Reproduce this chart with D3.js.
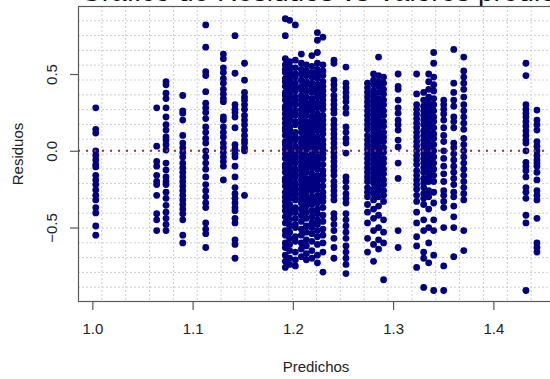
<!DOCTYPE html>
<html>
<head>
<meta charset="utf-8">
<script src="https://cdn.jsdelivr.net/npm/d3@7"></script>
<style>
  html, body { margin: 0; padding: 0; background: #fff; overflow: hidden; }
  svg { display: block; font-family: "Liberation Sans", Arial, sans-serif; }
</style>
</head>
<body>
<svg id="chart" width="550" height="379"></svg>
<script>
// Fitted values (one per distinct prediction level)
const predichos = [
  1.0034, 1.0642, 1.0735, 1.0902, 1.1131, 1.1307, 1.1423, 1.1518,
  1.1925, 1.1968, 1.2025, 1.2085, 1.2135, 1.2190, 1.2245, 1.2300,
  1.2410, 1.2530,
  1.2745, 1.2805, 1.2855, 1.2905, 1.3050,
  1.3235, 1.3305, 1.3355, 1.3405, 1.3505, 1.3605, 1.3705,
  1.4325, 1.4435
];

// Residuals observed at each prediction level
const residuos = [
  [0.28, 0.14, 0.115, 0.0, -0.03, -0.06, -0.09, -0.105, -0.16, -0.19, -0.22, -0.255, -0.29, -0.32, -0.37, -0.405, -0.49, -0.55],
  [0.28, 0.03, -0.07, -0.1, -0.16, -0.2, -0.22, -0.29, -0.41, -0.45, -0.52],
  [0.45, 0.43, 0.375, 0.34, 0.28, 0.22, 0.17, 0.135, 0.09, 0.07, 0.04, 0.005, -0.08, -0.125, -0.17, -0.2, -0.22, -0.27, -0.31, -0.355, -0.4, -0.44, -0.48, -0.52],
  [0.36, 0.26, 0.245, 0.2, 0.1, 0.05, 0.02, -0.01, -0.04, -0.08, -0.11, -0.14, -0.17, -0.2, -0.23, -0.26, -0.29, -0.32, -0.35, -0.38, -0.41, -0.45, -0.55, -0.6],
  [0.82, 0.675, 0.515, 0.49, 0.385, 0.31, 0.28, 0.25, 0.21, 0.155, 0.12, 0.08, 0.05, 0.0, -0.04, -0.08, -0.12, -0.17, -0.22, -0.26, -0.3, -0.34, -0.37, -0.47, -0.51, -0.54, -0.63],
  [0.63, 0.6, 0.54, 0.51, 0.47, 0.44, 0.4, 0.37, 0.34, 0.32, 0.22, 0.2, 0.155, 0.12, 0.09, 0.05, 0.02, -0.01, -0.04, -0.07, -0.1, -0.19],
  [0.75, 0.505, 0.3, 0.27, 0.25, 0.22, 0.15, 0.04, 0.01, -0.02, -0.04, -0.1, -0.17, -0.24, -0.28, -0.31, -0.34, -0.37, -0.39, -0.44, -0.47, -0.58, -0.61, -0.7],
  [0.57, 0.46, 0.38, 0.35, 0.33, 0.3, 0.27, 0.23, 0.2, 0.17, 0.135, 0.1, 0.07, 0.05, 0.02, 0.0, -0.29],
  [0.86, 0.75, 0.6, 0.56, 0.53, 0.51, 0.47, 0.45, 0.42, 0.38, 0.36, 0.33, 0.29, 0.27, 0.24, 0.21, 0.18, 0.15, 0.13, 0.1, 0.06, 0.04, 0.01, -0.02, -0.05, -0.09, -0.11, -0.14, -0.18, -0.2, -0.23, -0.27, -0.3, -0.33, -0.36, -0.39, -0.43, -0.47, -0.52, -0.55, -0.6, -0.63, -0.68, -0.72, -0.76],
  [0.85, 0.58, 0.55, 0.52, 0.49, 0.46, 0.43, 0.4, 0.37, 0.34, 0.31, 0.28, 0.25, 0.22, 0.2, 0.16, 0.14, 0.11, 0.08, 0.05, 0.02, -0.01, -0.04, -0.07, -0.1, -0.13, -0.16, -0.19, -0.22, -0.25, -0.28, -0.31, -0.35, -0.38, -0.41, -0.45, -0.49, -0.53, -0.57, -0.61, -0.65, -0.7, -0.74],
  [0.82, 0.59, 0.54, 0.5, 0.48, 0.44, 0.41, 0.39, 0.35, 0.32, 0.3, 0.26, 0.23, 0.19, 0.17, 0.12, 0.09, 0.07, 0.03, 0.0, -0.03, -0.06, -0.08, -0.12, -0.15, -0.17, -0.21, -0.24, -0.26, -0.29, -0.32, -0.37, -0.4, -0.44, -0.48, -0.5, -0.56, -0.59, -0.66, -0.71, -0.75],
  [0.63, 0.57, 0.53, 0.5, 0.46, 0.42, 0.4, 0.36, 0.33, 0.3, 0.27, 0.24, 0.21, 0.18, 0.15, 0.12, 0.08, 0.05, 0.02, -0.01, -0.04, -0.07, -0.1, -0.13, -0.16, -0.19, -0.22, -0.25, -0.28, -0.31, -0.34, -0.38, -0.42, -0.46, -0.51, -0.55, -0.6, -0.64, -0.69],
  [0.56, 0.52, 0.49, 0.45, 0.43, 0.39, 0.35, 0.31, 0.28, 0.25, 0.23, 0.19, 0.16, 0.13, 0.1, 0.07, 0.04, 0.01, -0.03, -0.06, -0.09, -0.12, -0.14, -0.18, -0.21, -0.24, -0.27, -0.3, -0.33, -0.36, -0.4, -0.44, -0.49, -0.53, -0.58, -0.62, -0.67, -0.71],
  [0.62, 0.55, 0.51, 0.48, 0.44, 0.41, 0.38, 0.34, 0.32, 0.29, 0.26, 0.22, 0.2, 0.17, 0.14, 0.11, 0.08, 0.05, 0.02, -0.02, -0.05, -0.08, -0.11, -0.15, -0.17, -0.2, -0.23, -0.26, -0.3, -0.32, -0.35, -0.39, -0.43, -0.47, -0.5, -0.54, -0.59, -0.65, -0.7],
  [0.77, 0.72, 0.64, 0.57, 0.53, 0.5, 0.47, 0.43, 0.4, 0.37, 0.35, 0.31, 0.28, 0.24, 0.21, 0.18, 0.15, 0.13, 0.09, 0.06, 0.03, 0.0, -0.04, -0.07, -0.1, -0.12, -0.16, -0.19, -0.22, -0.25, -0.29, -0.31, -0.34, -0.38, -0.41, -0.45, -0.48, -0.52, -0.56, -0.61, -0.68, -0.73],
  [0.74, 0.56, 0.52, 0.49, 0.45, 0.42, 0.39, 0.36, 0.33, 0.3, 0.27, 0.23, 0.2, 0.17, 0.14, 0.11, 0.07, 0.04, 0.01, -0.02, -0.05, -0.09, -0.13, -0.16, -0.19, -0.23, -0.27, -0.3, -0.33, -0.37, -0.42, -0.46, -0.51, -0.55, -0.6, -0.66, -0.79],
  [0.59, 0.57, 0.46, 0.43, 0.4, 0.36, 0.33, 0.3, 0.27, 0.245, 0.2, 0.17, 0.14, 0.11, 0.08, 0.05, 0.02, -0.01, -0.04, -0.07, -0.1, -0.13, -0.16, -0.2, -0.23, -0.26, -0.29, -0.32, -0.41, -0.44, -0.48, -0.52, -0.57, -0.63, -0.7],
  [0.545, 0.44, 0.41, 0.38, 0.35, 0.32, 0.28, 0.245, 0.155, 0.12, 0.08, 0.05, -0.015, -0.17, -0.2, -0.24, -0.28, -0.31, -0.34, -0.41, -0.45, -0.49, -0.53, -0.57, -0.62, -0.66, -0.7, -0.74, -0.8],
  [0.44, 0.41, 0.38, 0.35, 0.32, 0.29, 0.26, 0.23, 0.2, 0.17, 0.14, 0.1, 0.07, 0.04, 0.01, -0.02, -0.05, -0.08, -0.11, -0.14, -0.17, -0.2, -0.24, -0.27, -0.3, -0.35, -0.4, -0.47, -0.57, -0.66],
  [0.5, 0.46, 0.43, 0.39, 0.36, 0.33, 0.3, 0.27, 0.24, 0.21, 0.18, 0.15, 0.12, 0.09, 0.06, 0.03, 0.0, -0.03, -0.06, -0.09, -0.12, -0.15, -0.18, -0.21, -0.25, -0.28, -0.32, -0.38, -0.44, -0.52, -0.61, -0.72],
  [0.61, 0.49, 0.45, 0.42, 0.38, 0.34, 0.31, 0.28, 0.25, 0.22, 0.19, 0.16, 0.13, 0.11, 0.08, 0.05, 0.02, -0.01, -0.04, -0.07, -0.1, -0.13, -0.16, -0.19, -0.23, -0.26, -0.3, -0.36, -0.42, -0.5, -0.58, -0.64],
  [0.48, 0.44, 0.4, 0.37, 0.33, 0.3, 0.26, 0.23, 0.19, 0.16, 0.12, 0.09, 0.06, 0.02, -0.01, -0.05, -0.08, -0.12, -0.15, -0.19, -0.22, -0.26, -0.29, -0.33, -0.45, -0.53, -0.6, -0.84],
  [0.5, 0.42, 0.4, 0.33, 0.28, 0.245, 0.2, 0.17, 0.135, 0.07, 0.025, -0.08, -0.18, -0.52, -0.63],
  [0.5, 0.37, 0.3, 0.27, 0.24, 0.21, 0.18, 0.15, 0.12, 0.09, 0.06, 0.03, 0.0, -0.03, -0.06, -0.09, -0.13, -0.16, -0.19, -0.22, -0.25, -0.29, -0.33, -0.4, -0.47, -0.56, -0.62, -0.76],
  [0.38, 0.33, 0.29, 0.26, 0.23, 0.2, 0.17, 0.13, 0.1, 0.07, 0.04, 0.01, -0.02, -0.05, -0.08, -0.11, -0.14, -0.18, -0.21, -0.24, -0.28, -0.31, -0.35, -0.45, -0.52, -0.66, -0.7, -0.89],
  [0.5, 0.45, 0.4, 0.35, 0.31, 0.28, 0.25, 0.22, 0.18, 0.15, 0.12, 0.09, 0.05, 0.02, -0.01, -0.04, -0.07, -0.1, -0.14, -0.17, -0.2, -0.26, -0.3, -0.38, -0.5, -0.6, -0.73],
  [0.64, 0.57, 0.48, 0.43, 0.39, 0.34, 0.3, 0.26, 0.22, 0.19, 0.15, 0.11, 0.08, 0.04, 0.0, -0.04, -0.08, -0.12, -0.16, -0.2, -0.27, -0.34, -0.45, -0.52, -0.68, -0.91],
  [0.33, 0.3, 0.27, 0.24, 0.2, 0.15, 0.1, 0.06, 0.0, -0.05, -0.1, -0.15, -0.2, -0.26, -0.29, -0.33, -0.37, -0.5, -0.75, -0.91],
  [0.66, 0.44, 0.38, 0.33, 0.29, 0.22, 0.19, 0.15, 0.05, 0.02, -0.02, -0.06, -0.1, -0.14, -0.18, -0.22, -0.27, -0.3, -0.36, -0.43, -0.5, -0.69],
  [0.61, 0.52, 0.48, 0.44, 0.4, 0.35, 0.3, 0.26, 0.22, 0.18, 0.14, 0.08, 0.04, 0.0, -0.04, -0.08, -0.12, -0.16, -0.2, -0.24, -0.28, -0.32, -0.52, -0.65],
  [0.57, 0.49, 0.3, 0.27, 0.245, 0.22, 0.19, 0.16, 0.13, 0.1, 0.07, 0.05, 0.0, -0.075, -0.1, -0.13, -0.17, -0.24, -0.27, -0.31, -0.42, -0.47, -0.91],
  [0.265, 0.2, 0.17, 0.135, 0.06, 0.03, 0.0, -0.03, -0.06, -0.08, -0.1, -0.14, -0.19, -0.26, -0.29, -0.32, -0.44, -0.6, -0.63, -0.66]
];

const xTicks = [1.0, 1.1, 1.2, 1.3, 1.4];
const yTicks = [-0.5, 0.0, 0.5];
const xLimits = [0.9857, 1.4615];
const yLimits = [-0.985, 0.943];

const titulo = "Gráfico de Residuos vs Valores predichos";
const etiquetaX = "Predichos";
const etiquetaY = "Residuos";

// ---- layout ----
const plot = { left: 78, right: 555, top: 6, bottom: 302 };
const font = "15px";

const svg = d3.select("#chart");

const x = d3.scaleLinear().domain(xLimits).range([plot.left, plot.right]);
const y = d3.scaleLinear().domain(yLimits).range([plot.bottom, plot.top]);

const puntos = predichos.flatMap((p, i) => residuos[i].map(r => ({ p, r })));

// main title, set high so that only the foot of its letters shows
svg.append("text")
  .attr("x", 80).attr("y", 0.8)
  .attr("font-size", "28px")
  .attr("fill", "#111")
  .text(titulo);

// dotted grid dividing the plot region into 20 x 20 cells
const nGrid = 20;
const gGrid = svg.append("g")
  .attr("stroke", "#cfcfcf")
  .attr("stroke-width", 1)
  .attr("stroke-dasharray", "2,2");
d3.range(1, nGrid).forEach(k => {
  const xv = xLimits[0] + k * (xLimits[1] - xLimits[0]) / nGrid;
  const yv = yLimits[0] + k * (yLimits[1] - yLimits[0]) / nGrid;
  gGrid.append("line")
    .attr("x1", x(xv)).attr("x2", x(xv))
    .attr("y1", plot.top).attr("y2", plot.bottom);
  gGrid.append("line")
    .attr("x1", plot.left).attr("x2", plot.right)
    .attr("y1", y(yv)).attr("y2", y(yv));
});

// points
svg.append("defs").append("clipPath").attr("id", "clipPlot")
  .append("rect")
  .attr("x", plot.left).attr("y", plot.top)
  .attr("width", plot.right - plot.left).attr("height", plot.bottom - plot.top);

svg.append("g").attr("clip-path", "url(#clipPlot)")
  .selectAll("circle")
  .data(puntos)
  .join("circle")
  .attr("cx", d => x(d.p))
  .attr("cy", d => y(d.r))
  .attr("r", 3.4)
  .attr("fill", "#000080");

// reference line at zero
svg.append("line")
  .attr("x1", plot.left).attr("x2", plot.right)
  .attr("y1", y(0)).attr("y2", y(0))
  .attr("stroke", "#b3262a")
  .attr("stroke-width", 2)
  .attr("stroke-dasharray", "2,6");

// plot box
svg.append("rect")
  .attr("x", plot.left + 0.5).attr("y", plot.top + 0.5)
  .attr("width", plot.right - plot.left).attr("height", plot.bottom - plot.top - 1)
  .attr("fill", "none")
  .attr("stroke", "#5a5a5a")
  .attr("stroke-width", 1.2);

// x axis
const xAxis = svg.append("g")
  .attr("transform", `translate(0,${plot.bottom})`)
  .call(d3.axisBottom(x).tickValues(xTicks).tickSize(8).tickPadding(13)
    .tickFormat(d3.format(".1f")));
xAxis.select(".domain").remove();
xAxis.selectAll(".tick line").attr("stroke", "#5a5a5a").attr("stroke-width", 1.2);
xAxis.selectAll(".tick text")
  .attr("font-size", font)
  .attr("font-family", "Liberation Sans, Arial, sans-serif")
  .attr("fill", "#222");

// y axis (labels parallel to the axis)
const yAxis = svg.append("g")
  .attr("transform", `translate(${plot.left},0)`)
  .call(d3.axisLeft(y).tickValues(yTicks).tickSize(8)
    .tickFormat(d3.format(".1f")));
yAxis.select(".domain").remove();
yAxis.selectAll(".tick line").attr("stroke", "#5a5a5a").attr("stroke-width", 1.2);
yAxis.selectAll(".tick text")
  .attr("font-size", font)
  .attr("font-family", "Liberation Sans, Arial, sans-serif")
  .attr("fill", "#222")
  .attr("x", null).attr("dy", null)
  .attr("text-anchor", "middle")
  .attr("transform", "translate(-21,0) rotate(-90)");

// axis titles
svg.append("text")
  .attr("x", (plot.left + plot.right) / 2 - 0.5)
  .attr("y", 371.5)
  .attr("text-anchor", "middle")
  .attr("font-size", font)
  .attr("fill", "#222")
  .text(etiquetaX);

svg.append("text")
  .attr("transform", `translate(22.5,${(plot.top + plot.bottom) / 2}) rotate(-90)`)
  .attr("text-anchor", "middle")
  .attr("font-size", font)
  .attr("fill", "#222")
  .text(etiquetaY);
</script>
</body>
</html>
